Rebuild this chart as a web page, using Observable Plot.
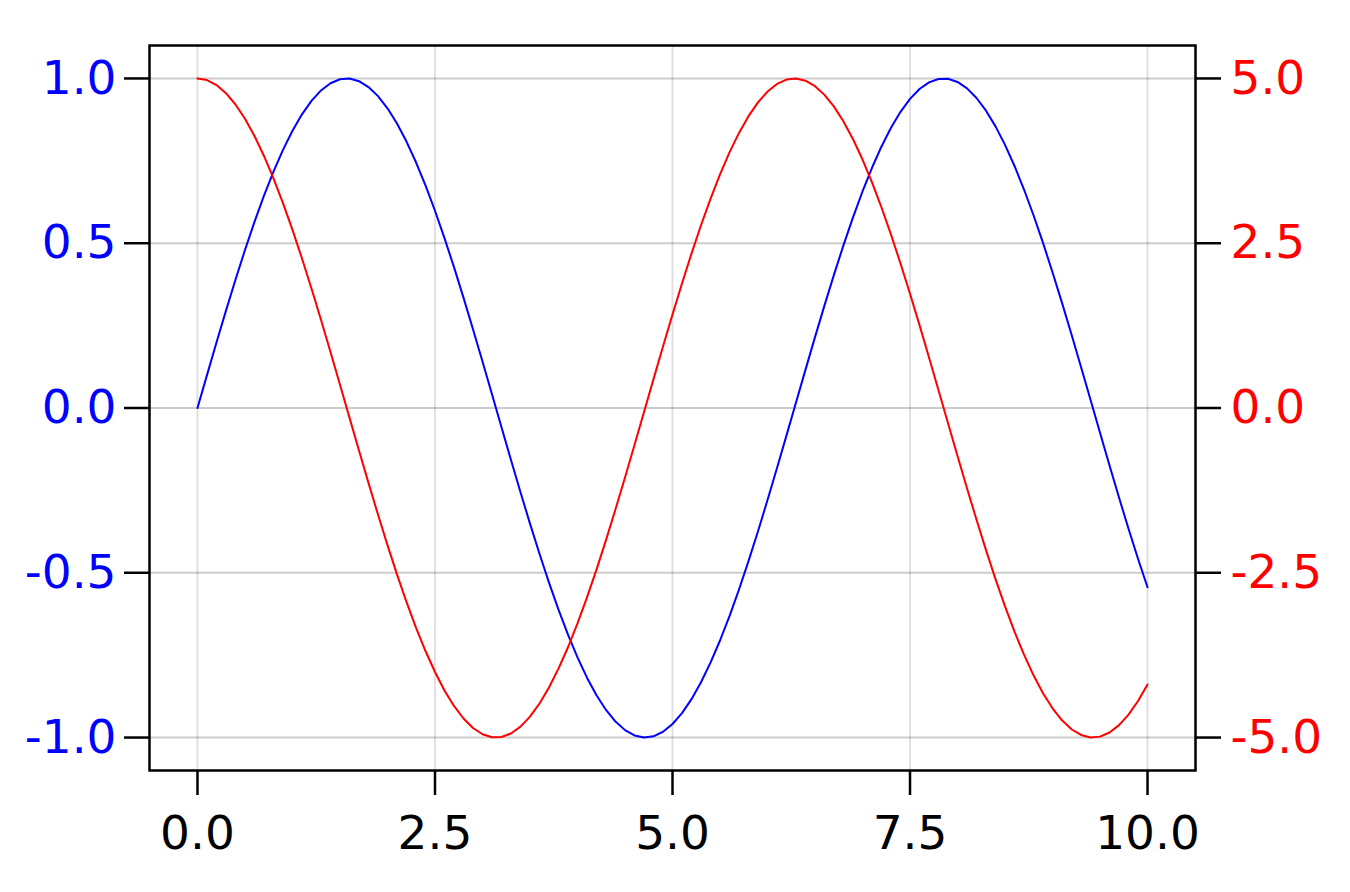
<!DOCTYPE html>
<html>
<head>
<meta charset="utf-8">
<script src="https://cdn.jsdelivr.net/npm/d3@7"></script>
<script src="https://cdn.jsdelivr.net/npm/@observablehq/plot@0.6"></script>
<style>
  html, body { margin: 0; padding: 0; background: white; }
</style>
</head>
<body>
<div id="chart"></div>
<script>
// x positions (step 0.1)
const xs = [0.0,0.1,0.2,0.3,0.4,0.5,0.6,0.7,0.8,0.9,1.0,1.1,1.2,1.3,1.4,1.5,1.6,1.7,1.8,1.9,2.0,2.1,2.2,2.3,2.4,2.5,2.6,2.7,2.8,2.9,3.0,3.1,3.2,3.3,3.4,3.5,3.6,3.7,3.8,3.9,4.0,4.1,4.2,4.3,4.4,4.5,4.6,4.7,4.8,4.9,5.0,5.1,5.2,5.3,5.4,5.5,5.6,5.7,5.8,5.9,6.0,6.1,6.2,6.3,6.4,6.5,6.6,6.7,6.8,6.9,7.0,7.1,7.2,7.3,7.4,7.5,7.6,7.7,7.8,7.9,8.0,8.1,8.2,8.3,8.4,8.5,8.6,8.7,8.8,8.9,9.0,9.1,9.2,9.3,9.4,9.5,9.6,9.7,9.8,9.9,10.0];
// blue series (left axis)
const blueValues = [0.000,0.0998,0.1987,0.2955,0.3894,0.4794,0.5646,0.6442,0.7174,0.7833,0.8415,0.8912,0.9320,0.9636,0.9854,0.9975,0.9996,0.9917,0.9738,0.9463,0.9093,0.8632,0.8085,0.7457,0.6755,0.5985,0.5155,0.4274,0.3350,0.2392,0.1411,0.0416,-0.0584,-0.1577,-0.2555,-0.3508,-0.4425,-0.5298,-0.6119,-0.6878,-0.7568,-0.8183,-0.8716,-0.9162,-0.9516,-0.9775,-0.9937,-0.9999,-0.9962,-0.9825,-0.9589,-0.9258,-0.8835,-0.8323,-0.7728,-0.7055,-0.6313,-0.5507,-0.4646,-0.3739,-0.2794,-0.1822,-0.0831,0.0168,0.1165,0.2151,0.3115,0.4048,0.4941,0.5784,0.6570,0.7290,0.7937,0.8504,0.8987,0.9380,0.9679,0.9882,0.9985,0.9989,0.9894,0.9699,0.9407,0.9022,0.8546,0.7985,0.7344,0.6630,0.5849,0.5010,0.4121,0.3191,0.2229,0.1245,0.0248,-0.0752,-0.1743,-0.2718,-0.3665,-0.4575,-0.5440];
// red series (right axis)
const redValues = [5.000,4.975,4.900,4.777,4.605,4.388,4.127,3.824,3.484,3.108,2.702,2.268,1.812,1.338,0.850,0.354,-0.146,-0.644,-1.136,-1.617,-2.081,-2.524,-2.943,-3.332,-3.687,-4.006,-4.285,-4.521,-4.711,-4.855,-4.950,-4.996,-4.992,-4.938,-4.834,-4.683,-4.484,-4.241,-3.955,-3.630,-3.268,-2.874,-2.452,-2.004,-1.537,-1.054,-0.561,-0.062,0.438,0.933,1.419,1.890,2.343,2.772,3.174,3.544,3.878,4.174,4.428,4.638,4.801,4.917,4.983,5.000,4.966,4.883,4.751,4.572,4.347,4.079,3.770,3.423,3.042,2.631,2.193,1.733,1.257,0.767,0.270,-0.230,-0.728,-1.218,-1.696,-2.157,-2.597,-3.010,-3.394,-3.743,-4.056,-4.327,-4.556,-4.739,-4.874,-4.961,-4.999,-4.986,-4.924,-4.812,-4.652,-4.446,-4.196];

const xTicks = [0, 2.5, 5, 7.5, 10];
const leftTicks = [-1, -0.5, 0, 0.5, 1];
const rightTicks = [-5, -2.5, 0, 2.5, 5];

const leftDomain = [-1.1, 1.1];
const rightDomain = [-5.5, 5.5];
const ratio = (rightDomain[1] - rightDomain[0]) / (leftDomain[1] - leftDomain[0]);

const blueData = xs.map((x, i) => ({x, v: blueValues[i]}));
const redData = xs.map((x, i) => ({x, v: redValues[i]}));
const rightTickPos = rightTicks.map(t => t / ratio);

const FS = 47;

const chart = Plot.plot({
  width: 1350,
  height: 892,
  marginLeft: 149,
  marginRight: 155,
  marginTop: 45,
  marginBottom: 122,
  style: {fontFamily: "'DejaVu Sans', sans-serif", fontSize: FS + "px", background: "white", overflow: "visible"},
  x: {domain: [-0.505, 10.505]},
  y: {domain: leftDomain},
  marks: [
    Plot.gridY(leftTicks, {stroke: "#000", strokeOpacity: 0.2, strokeWidth: 2}),
    Plot.gridX(xTicks, {stroke: "#000", strokeOpacity: 0.12, strokeWidth: 2}),
    Plot.line(blueData, {x: "x", y: "v", stroke: "#0000ff", strokeWidth: 2}),
    Plot.line(redData, {x: "x", y: d => d.v / ratio, stroke: "#ff0000", strokeWidth: 2}),
    Plot.frame({stroke: "black", strokeWidth: 2.5}),
    Plot.axisX(xTicks, {anchor: "bottom", label: null, tickSize: 25, tickPadding: 20, strokeWidth: 2.5, stroke: "black", fill: "black", fontSize: FS, tickFormat: d => d.toFixed(1)}),
    Plot.axisY(leftTicks, {anchor: "left", label: null, tickSize: 25, tickPadding: 8, strokeWidth: 2.5, stroke: "black", fill: "#0000ff", fontSize: FS, tickFormat: d => d.toFixed(1)}),
    Plot.axisY(rightTickPos, {anchor: "right", label: null, tickSize: 25, tickPadding: 10, strokeWidth: 2.5, stroke: "black", fill: "#ff0000", fontSize: FS, tickFormat: d => (d * ratio).toFixed(1)})
  ]
});
document.getElementById("chart").appendChild(chart);
</script>
</body>
</html>
